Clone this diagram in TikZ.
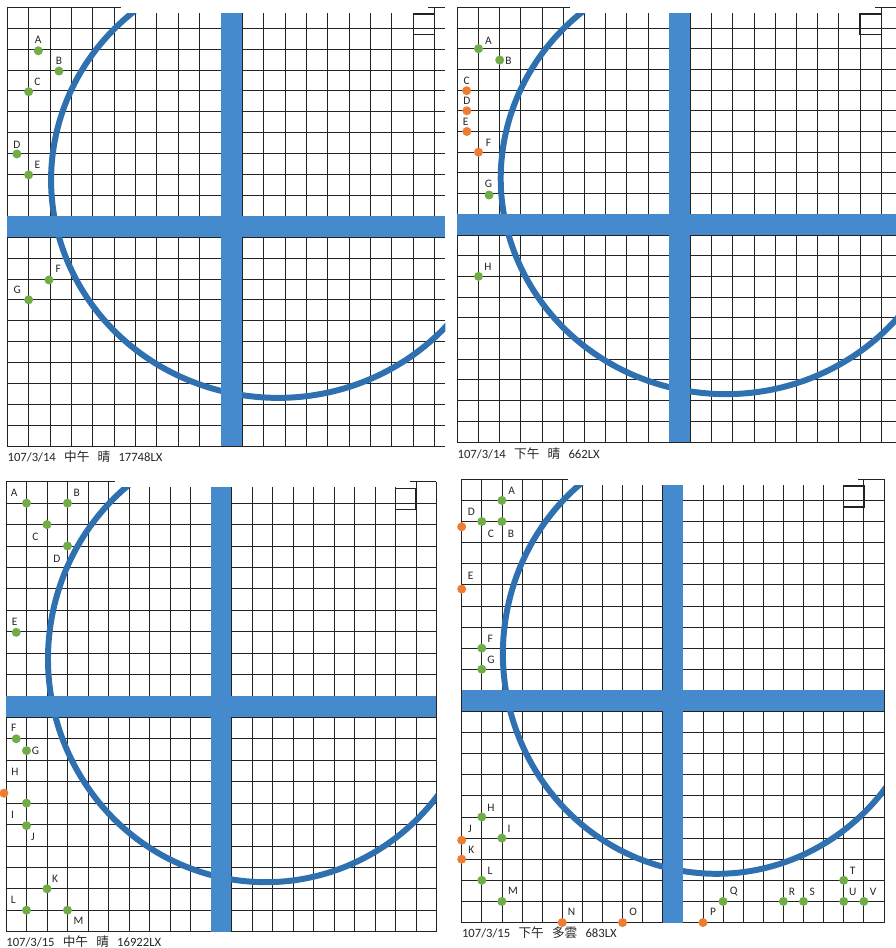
\documentclass[tikz,border=0pt]{standalone}
\usepackage{fontspec}
\setmainfont{Carlito}
\newfontfamily\cjk{Noto Sans CJK TC}
\definecolor{sdgrid}{RGB}{35,35,35}
\definecolor{sdbar}{RGB}{70,138,206}
\definecolor{sdring}{RGB}{46,112,176}
\definecolor{sdgreen}{RGB}{112,173,71}
\definecolor{sdorange}{RGB}{237,125,49}
\tikzset{
  gridln/.style={draw=sdgrid, line width=0.45pt},
  bar/.style={fill=sdbar},
  ring/.style={draw=sdring, line width=3.4pt},
  boxln/.style={draw=sdgrid, line width=0.8pt},
  gdot/.style={circle, fill=sdgreen, inner sep=0pt, minimum size=1.8mm},
  odot/.style={gdot, fill=sdorange},
  lbl/.style={font=\fontsize{6.5}{7.5}\selectfont, text=black!85, inner sep=0pt},
  captxt/.style={font=\fontsize{7.2}{8.5}\selectfont, text=black!85, anchor=west, inner sep=0pt}
}
% one sheet of squared paper, in cell units
\newcommand\sheet[1]{%
  \pgfmathtruncatemacro\ncol{#1}
  \foreach \i in {0,...,\ncol} \draw[gridln] (\i,0) -- (\i,21);
  \foreach \j in {0,...,21} \draw[gridln] (0,\j) -- (#1,\j);
  \begin{scope}
    \clip (0,0) rectangle (#1,21);
    \draw[ring] ({12.67+10.62*cos(240)},{8.26+10.43*sin(240)})
      arc [start angle=240, end angle=0, x radius=10.62, y radius=10.43];
  \end{scope}
  \fill[bar] (10,0) rectangle (11,21);
  \fill[bar] (0,10) rectangle (#1,11);
  \fill[white] (5.3,-0.1) rectangle (19.7,0.27);
  \draw[boxln] (19,0.32) rectangle (20,1.31);
}
\newcommand\gap{\hspace{0.65em}}

\begin{document}
\begin{tikzpicture}[x=0.02cm, y=-0.02cm]
  \useasboundingbox (0,0) rectangle (896,948);
  \fill[white] (0,0) rectangle (896,948);

  % 107/3/14 noon
  \begin{scope}[shift={(7.3,7.3)}, x=0.4274cm, y=-0.418cm]
    \sheet{20.5}
    \foreach \n/\x/\y/\dx/\dy in {A/1.45/2.08/0/-0.51, B/2.42/3.05/0/-0.48,
        C/1/4.04/0.41/-0.48, D/0.45/7.02/0/-0.46, E/1/8.02/0.41/-0.48,
        F/1.95/13.05/0.44/-0.55, G/1/14/-0.54/-0.48} {
      \node[gdot] (a\n) at (\x,\y) {};
      \node[lbl] (a\n-l) at (\x+\dx,\y+\dy) {\n};
    }
    \node[captxt] (acap) at (0,21.5) {107/3/14\gap{\cjk 中午}\gap{\cjk 晴}\gap17748LX};
  \end{scope}

  % 107/3/14 afternoon
  \begin{scope}[shift={(457.3,7.3)}, x=0.424cm, y=-0.414cm]
    \sheet{20.69}
    \foreach \n/\x/\y/\dx/\dy in {A/1/2/0.47/-0.4, B/2/2.55/0.42/0.03,
        G/1.5/9.07/-0.03/-0.52, H/1/13/0.44/-0.48} {
      \node[gdot] (b\n) at (\x,\y) {};
      \node[lbl] (b\n-l) at (\x+\dx,\y+\dy) {\n};
    }
    \foreach \n/\x/\y/\dx/\dy in {C/0.44/4.03/0/-0.47, D/0.45/5/0/-0.48,
        E/0.45/6/-0.05/-0.45, F/1/7/0.47/-0.43} {
      \node[odot] (b\n) at (\x,\y) {};
      \node[lbl] (b\n-l) at (\x+\dx,\y+\dy) {\n};
    }
    \node[captxt] (bcap) at (0,21.55) {107/3/14\gap{\cjk 下午}\gap{\cjk 晴}\gap662LX};
  \end{scope}

  % 107/3/15 noon
  \begin{scope}[shift={(6,481.7)}, x=0.41cm, y=-0.4286cm]
    \sheet{21}
    \foreach \n/\x/\y/\dx/\dy in {A/1/1/-0.6/-0.47, B/3/1/0.45/-0.47,
        C/2/2/-0.57/0.56, D/3/3/-0.52/0.59, E/0.5/7.03/-0.08/-0.47,
        F/0.5/12/-0.12/-0.5, G/1/12.55/0.44/0, I/1/15/-0.68/0.56,
        J/1/16.05/0.32/0.51, K/2/19/0.4/-0.47, L/1/20/-0.65/-0.47,
        M/3/20/0.54/0.51} {
      \node[gdot] (c\n) at (\x,\y) {};
      \node[lbl] (c\n-l) at (\x+\dx,\y+\dy) {\n};
    }
    \node[odot] (cH) at (-0.1,14.54) {};
    \node[lbl] (cH-l) at (0.44,13.54) {H};
    \node[captxt] (ccap) at (0,21.47) {107/3/15\gap{\cjk 中午}\gap{\cjk 晴}\gap16922LX};
  \end{scope}

  % 107/3/15 afternoon
  \begin{scope}[shift={(461.7,479.3)}, x=0.4022cm, y=-0.4222cm]
    \sheet{21}
    \foreach \n/\x/\y/\dx/\dy in {A/2/1/0.48/-0.47, B/2/2/0.45/0.57,
        C/1/2/0.45/0.57, F/1/8/0.42/-0.44, G/1/9/0.45/-0.46,
        H/1/16/0.46/-0.44, I/2/17/0.36/-0.45, L/1/19/0.41/-0.43,
        M/2/20/0.55/-0.5, Q/13/20/0.53/-0.47, R/16/20/0.43/-0.47,
        S/17/20/0.43/-0.47, T/19/19/0.45/-0.47, U/19/20/0.45/-0.47,
        V/20/20/0.46/-0.47} {
      \node[gdot] (d\n) at (\x,\y) {};
      \node[lbl] (d\n-l) at (\x+\dx,\y+\dy) {\n};
    }
    \foreach \n/\x/\y/\dx/\dy in {D/0/2.25/0.48/-0.71, E/0/5.2/0.45/-0.62,
        J/0/17.1/0.41/-0.55, K/0/18/0.48/-0.44, N/5/21/0.47/-0.5,
        O/8/21/0.53/-0.5, P/12/21/0.5/-0.5} {
      \node[odot] (d\n) at (\x,\y) {};
      \node[lbl] (d\n-l) at (\x+\dx,\y+\dy) {\n};
    }
    \node[captxt] (dcap) at (0,21.5) {107/3/15\gap{\cjk 下午}\gap{\cjk 多雲}\gap683LX};
  \end{scope}
\end{tikzpicture}
\end{document}
